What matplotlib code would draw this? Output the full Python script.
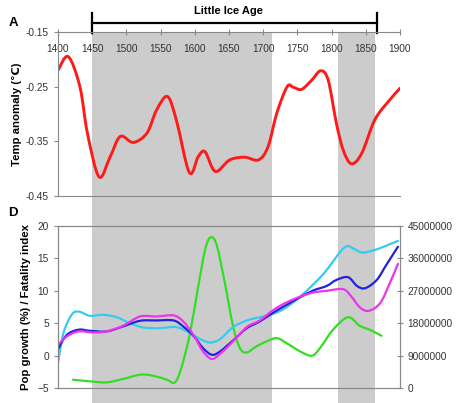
import matplotlib
matplotlib.use('Agg')
import matplotlib.pyplot as plt
import matplotlib.transforms as mtransforms
from matplotlib.patches import Rectangle, PathPatch
from matplotlib.path import Path

plt.rcParams['font.family'] = ['Liberation Sans', 'DejaVu Sans']

# 温度距平 (面板 A)
temp_years = [1400, 1415, 1432, 1443, 1460, 1476, 1491, 1510, 1530, 1544, 1560, 1573,
              1592, 1605, 1615, 1630, 1651, 1673, 1693, 1707, 1720, 1735, 1744, 1756,
              1771, 1784, 1795, 1807, 1817, 1829, 1844, 1863, 1883, 1900]
temp_vals = [-0.220, -0.195, -0.250, -0.335, -0.415, -0.379, -0.341, -0.352, -0.335,
             -0.293, -0.268, -0.311, -0.407, -0.378, -0.369, -0.405, -0.384, -0.379,
             -0.384, -0.360, -0.298, -0.250, -0.251, -0.255, -0.238, -0.221, -0.238,
             -0.317, -0.366, -0.391, -0.372, -0.311, -0.277, -0.253]

# 人口 (面板 D, 右轴, 百万)
cyan_years = [1400, 1408, 1420, 1430, 1447, 1466, 1486, 1505, 1525, 1549, 1573, 1593,
              1610, 1623, 1637, 1656, 1676, 1695, 1710, 1725, 1739, 1754, 1771, 1788,
              1802, 1815, 1824, 1834, 1846, 1866, 1883, 1897]
cyan_pop = [6.93, 15.25, 20.34, 21.24, 20.05, 20.34, 19.67, 18.0, 16.81, 16.63, 16.92,
            15.25, 13.39, 12.65, 13.59, 16.92, 18.76, 19.67, 20.34, 21.42, 23.09, 25.38,
            28.37, 31.68, 35.1, 38.34, 39.42, 38.52, 37.62, 38.52, 39.78, 40.86]

blue_years = [1400, 1413, 1430, 1447, 1471, 1495, 1520, 1544, 1569, 1583, 1598, 1612,
              1625, 1637, 1656, 1676, 1695, 1715, 1734, 1754, 1773, 1793, 1807, 1824,
              1837, 1849, 1866, 1880, 1897]
blue_pop = [10.8, 14.76, 16.2, 15.89, 15.71, 17.1, 18.67, 18.76, 18.76, 17.1, 14.51,
            11.09, 9.23, 10.17, 13.21, 16.63, 18.49, 20.97, 23.09, 25.2, 27.07, 28.37,
            30.02, 30.78, 28.37, 27.72, 30.02, 34.2, 39.24]

magenta_years = [1400, 1413, 1430, 1452, 1471, 1495, 1520, 1544, 1569, 1583, 1598, 1612,
                 1625, 1637, 1656, 1676, 1695, 1715, 1734, 1754, 1773, 1793, 1817, 1829,
                 1841, 1854, 1871, 1885, 1897]
magenta_pop = [12.01, 14.33, 15.71, 15.43, 15.71, 17.28, 19.87, 19.87, 20.16, 18.49,
               14.76, 10.17, 8.05, 9.52, 12.94, 16.92, 18.76, 21.71, 23.76, 25.38, 26.51,
               27.0, 27.45, 25.38, 22.45, 21.42, 23.58, 29.11, 34.47]

# 死亡指数 (面板 D, 左轴)
green_years = [1422, 1447, 1471, 1495, 1520, 1539, 1559, 1571, 1581, 1593, 1605, 1615,
               1623, 1632, 1644, 1656, 1666, 1676, 1690, 1705, 1720, 1734, 1754, 1771,
               1783, 1802, 1824, 1841, 1856, 1873]
green_vals = [-3.72, -3.97, -4.13, -3.61, -2.95, -3.10, -3.72, -4.13, -1.66, 3.47,
              10.66, 16.30, 18.25, 17.07, 11.17, 4.50, 1.16, 0.49, 1.42, 2.19, 2.70,
              1.93, 0.65, -0.02, 1.16, 3.98, 5.93, 4.60, 3.98, 3.06]

# 小冰期阴影区间
bands = [(1449, 1713), (1809, 1864)]
lia_span = (1450, 1866)

temp_ticks = [-0.15, -0.25, -0.35, -0.45]
year_ticks = list(range(1400, 1901, 50))
left_ticks = [20, 15, 10, 5, 0, -5]
right_ticks = [45000000, 36000000, 27000000, 18000000, 9000000, 0]


def smooth_line(ax, xs, ys, color, lw):
    """像 Excel 平滑线一样用贝塞尔曲线连接各点"""
    n = len(xs)
    verts = [(xs[0], ys[0])]
    codes = [Path.MOVETO]
    for i in range(n - 1):
        x0, y0 = xs[max(i - 1, 0)], ys[max(i - 1, 0)]
        x1, y1 = xs[i], ys[i]
        x2, y2 = xs[i + 1], ys[i + 1]
        x3, y3 = xs[min(i + 2, n - 1)], ys[min(i + 2, n - 1)]
        c1 = (x1 + (x2 - x0) / 6.0, y1 + (y2 - y0) / 6.0)
        c2 = (x2 - (x3 - x1) / 6.0, y2 - (y3 - y1) / 6.0)
        verts += [c1, c2, (x2, y2)]
        codes += [Path.CURVE4] * 3
    patch = PathPatch(Path(verts, codes), facecolor='none', edgecolor=color,
                      lw=lw, capstyle='round', joinstyle='round')
    ax.add_patch(patch)
    return patch


fig = plt.figure(figsize=(4.61, 4.03), dpi=100)
ax1 = fig.add_axes([0.1258, 0.5136, 0.7419, 0.4070])
ax2 = fig.add_axes([0.1258, 0.0372, 0.7419, 0.4020])
ax2r = ax2.twinx()

for ax in (ax1, ax2, ax2r):
    ax.set_facecolor('none')
    ax.set_xlim(1400, 1900)

top_frac = 0.5136 + 0.4070
trans = mtransforms.blended_transform_factory(ax1.transData, fig.transFigure)
for x0, x1 in bands:
    fig.patches.append(Rectangle((x0, 0), x1 - x0, top_frac, transform=trans,
                                 facecolor='#cccccc', edgecolor='none', zorder=-1))

# 面板 A
smooth_line(ax1, temp_years, temp_vals, '#ff1a1a', 2.1)
ax1.set_ylim(-0.45, -0.15)
ax1.set_yticks(temp_ticks)
ax1.set_yticklabels(['%.2f' % t for t in temp_ticks])
ax1.set_xticks(year_ticks)
ax1.tick_params(axis='x', top=True, bottom=False, labeltop=True, labelbottom=False,
                direction='inout', length=4, pad=-18, labelsize=7.3,
                colors='#888888', labelcolor='#333333')
ax1.tick_params(axis='y', direction='out', length=3, labelsize=7.3,
                colors='#888888', labelcolor='#333333')
ax1.spines['right'].set_visible(False)
for s in ('top', 'left', 'bottom'):
    ax1.spines[s].set_color('#888888')
    ax1.spines[s].set_linewidth(0.8)
ax1.set_ylabel('Temp anomaly (\u2103)', fontsize=8.2, fontweight='bold', labelpad=3)

# 小冰期标注
ax1.plot(lia_span, [0.944, 0.944], color='black', lw=1.6, transform=trans, clip_on=False)
for x in lia_span:
    ax1.plot([x, x], [0.918, 0.968], color='black', lw=1.6, transform=trans, clip_on=False)
fig.text(0.495, 0.972, 'Little Ice Age', fontsize=8, fontweight='bold', ha='center', va='center')
fig.text(0.018, 0.944, 'A', fontsize=9.5, fontweight='bold', ha='left', va='center')
fig.text(0.018, 0.472, 'D', fontsize=9.5, fontweight='bold', ha='left', va='center')

# 面板 D
smooth_line(ax2, green_years, green_vals, '#33dd22', 1.6)
ax2.set_ylim(-5, 20)
ax2.set_yticks(left_ticks)
ax2.set_xticks([])
ax2.tick_params(axis='y', direction='out', length=3, labelsize=7.3,
                colors='#888888', labelcolor='#333333')
ax2.set_ylabel('Pop growth (%) / Fatality index', fontsize=8.2, fontweight='bold', labelpad=5)

smooth_line(ax2r, cyan_years, [p * 1e6 for p in cyan_pop], '#33ccee', 1.6)
smooth_line(ax2r, blue_years, [p * 1e6 for p in blue_pop], '#2222dd', 1.6)
smooth_line(ax2r, magenta_years, [p * 1e6 for p in magenta_pop], '#ee33ee', 1.6)
ax2r.set_ylim(0, 45000000)
ax2r.set_yticks(right_ticks)
ax2r.set_yticklabels([str(t) for t in right_ticks])
ax2r.set_xticks([])
ax2r.tick_params(axis='y', direction='inout', length=4, labelsize=7.3,
                 colors='#888888', labelcolor='#333333')

for ax in (ax2, ax2r):
    for s in ax.spines.values():
        s.set_color('#888888')
        s.set_linewidth(0.8)

fig.savefig('out.png', dpi=100)
